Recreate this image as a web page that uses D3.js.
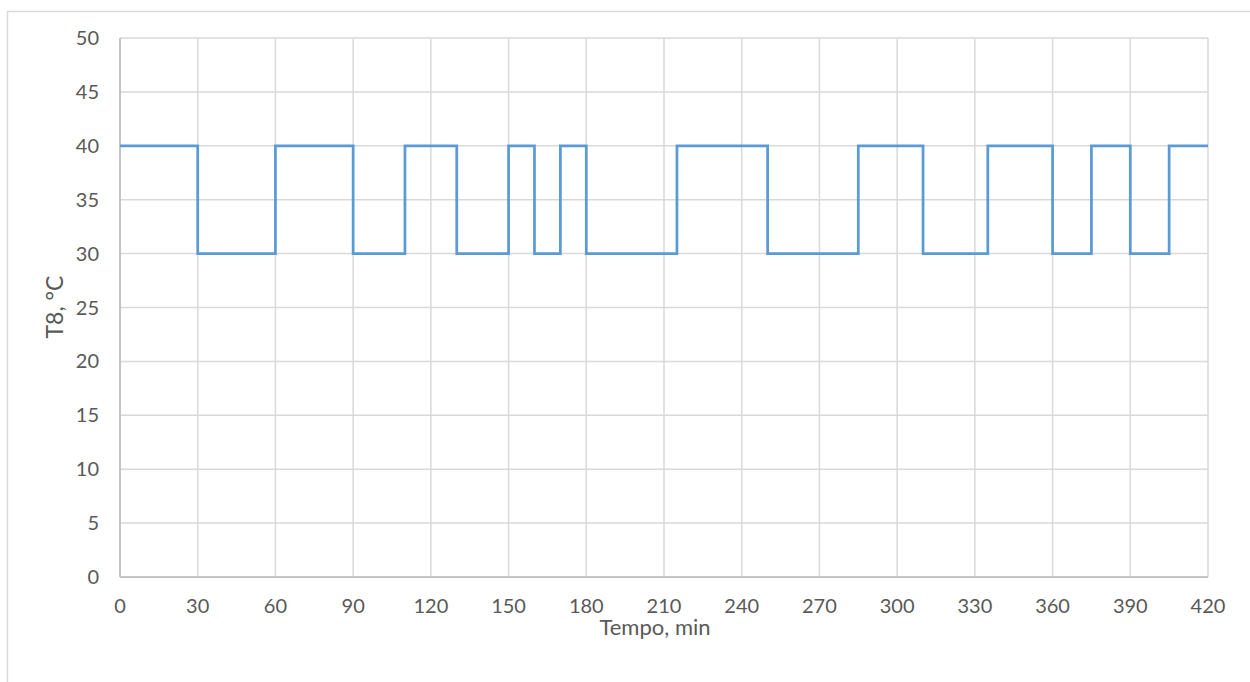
<!DOCTYPE html>
<html>
<head>
<meta charset="utf-8">
<script src="https://cdn.jsdelivr.net/npm/d3@7"></script>
<style>
  body { margin: 0; background: #fff; }
  text { font-family: Lato, "Open Sans", sans-serif; fill: #595959; }
</style>
</head>
<body>
<svg id="chart" width="1250" height="682"></svg>
<script>
// switching times (min) and the T8 setpoint that holds from each time on
var times  = [0, 30, 60, 90, 110, 130, 150, 160, 170, 180, 215, 250, 285, 310, 335, 360, 375, 390, 405, 420]
var values = [40, 30, 40, 30, 40, 30, 40, 30, 40, 30, 40, 30, 40, 30, 40, 30, 40, 30, 40, 40]
var xTicks = [0, 30, 60, 90, 120, 150, 180, 210, 240, 270, 300, 330, 360, 390, 420]
var yTicks = [0, 5, 10, 15, 20, 25, 30, 35, 40, 45, 50]

var data = times.map(function(t, i) { return {t: t, v: values[i]} })

var svg = d3.select("#chart")

// outer chart frame (top and left edges visible)
svg.append("path")
    .attr("d", "M7.5,682 V11.5 H1250")
    .attr("fill", "none")
    .attr("stroke", "#d9d9d9")
    .attr("stroke-width", 1.5)

var x = d3.scaleLinear().domain([0, 420]).range([120, 1208])
var y = d3.scaleLinear().domain([0, 50]).range([577, 38])

// gridlines
svg.selectAll("hgrid")
    .data(yTicks).enter()
    .append("line")
        .attr("x1", x(0)).attr("x2", x(420))
        .attr("y1", function(d){ return y(d) }).attr("y2", function(d){ return y(d) })
        .attr("stroke", "#d9d9d9").attr("stroke-width", 1.5)

svg.selectAll("vgrid")
    .data(xTicks).enter()
    .append("line")
        .attr("y1", y(0)).attr("y2", y(50))
        .attr("x1", function(d){ return x(d) }).attr("x2", function(d){ return x(d) })
        .attr("stroke", "#d9d9d9").attr("stroke-width", 1.5)

// axis lines
svg.append("line")
    .attr("x1", x(0)).attr("x2", x(420)).attr("y1", y(0)).attr("y2", y(0))
    .attr("stroke", "#bfbfbf").attr("stroke-width", 1.75)
svg.append("line")
    .attr("x1", x(0)).attr("x2", x(0)).attr("y1", y(0)).attr("y2", y(50))
    .attr("stroke", "#bfbfbf").attr("stroke-width", 1.75)

// tick labels
svg.selectAll("ylabels")
    .data(yTicks).enter()
    .append("text")
        .attr("x", 99)
        .attr("y", function(d){ return y(d) + 7 })
        .attr("text-anchor", "end")
        .style("font-size", "20px")
        .text(function(d){ return d })

svg.selectAll("xlabels")
    .data(xTicks).enter()
    .append("text")
        .attr("x", function(d){ return x(d) })
        .attr("y", 613)
        .attr("text-anchor", "middle")
        .style("font-size", "20px")
        .text(function(d){ return d })

// axis titles
svg.append("text")
    .attr("x", 655)
    .attr("y", 635)
    .attr("text-anchor", "middle")
    .style("font-size", "22px")
    .text("Tempo, min")

svg.append("text")
    .attr("transform", "translate(63,307) rotate(-90)")
    .attr("text-anchor", "middle")
    .style("font-size", "23px")
    .text("T8, °C")

// step series
var line = d3.line()
    .x(function(d){ return x(d.t) })
    .y(function(d){ return y(d.v) })
    .curve(d3.curveStepAfter)

svg.append("path")
    .datum(data)
    .attr("d", line)
    .attr("fill", "none")
    .attr("stroke", "#5b9bd5")
    .attr("stroke-width", 2.75)
</script>
</body>
</html>
